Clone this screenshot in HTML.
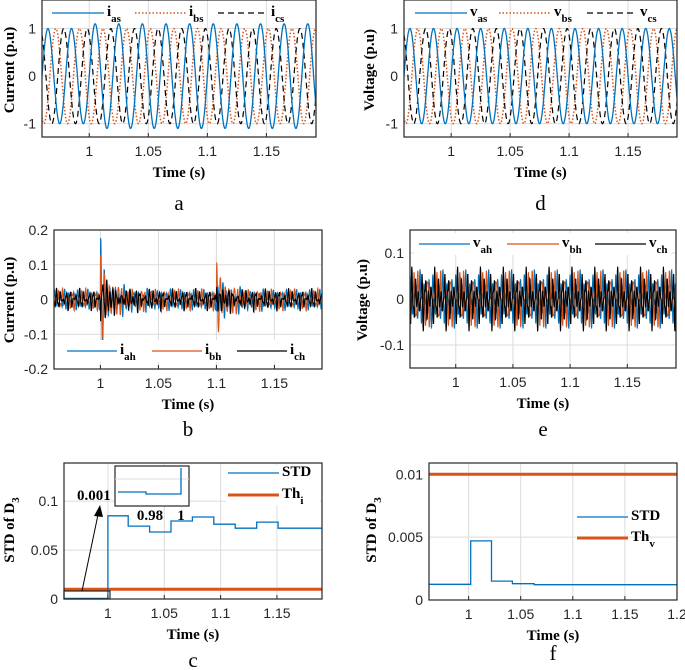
<!DOCTYPE html>
<html><head><meta charset="utf-8"><style>
body{margin:0;background:#fff}
svg{display:block}
.tk{font-family:"Liberation Sans",sans-serif;font-size:14px;fill:#262626}
.tt{font-family:"Liberation Serif",serif;font-weight:bold;font-size:15px;fill:#000}
.pl{font-family:"Liberation Serif",serif;font-size:21px;fill:#000}
.lg{font-family:"Liberation Serif",serif;font-weight:bold;font-size:15px;fill:#000}
</style></head><body>
<svg id="fig" width="685" height="670" viewBox="0 0 685 670" xmlns="http://www.w3.org/2000/svg"></svg>
<script>
// ---- data ----
const freqHz = 50;
const phaseShiftDeg = [0, -120, 120];
const currAmpBefore = [1, 1, 1];
const currAmpAfter = [1.1, 1, 1];
const voltAmp = [1, 1, 1];
const faultTime = 1.0;
const harmOrders = [5, 7, 11, 13];
const iahHarm = [0.014, 0.010, 0.006, 0.005];
const ibhHarm = [0.013, 0.011, 0.007, 0.004];
const ichHarm = [0.012, 0.012, 0.005, 0.006];
const vahHarm = [0.030, 0.022, 0.012, 0.006];
const vbhHarm = [0.028, 0.024, 0.010, 0.008];
const vchHarm = [0.020, 0.030, 0.015, 0.010];
const spikeTimes = [1.0, 1.1];
const iahSpike = [0.14, -0.09];
const ibhSpike = [0.12, 0.10];
const ichSpike = [-0.08, 0.04];
const stdIBreaks = [0.96, 1.0, 1.018, 1.037, 1.056, 1.075, 1.094, 1.113, 1.132, 1.151, 1.19];
const stdIValues = [0.0006, 0.085, 0.0745, 0.0685, 0.0797, 0.0838, 0.0765, 0.0724, 0.0786, 0.0724];
const thI = 0.01;
const stdVBreaks = [0.96, 1.002, 1.022, 1.042, 1.063, 1.2];
const stdVValues = [0.00125, 0.0047, 0.0015, 0.0013, 0.00122];
const thV = 0.01;
const timeTicks = [1, 1.05, 1.1, 1.15];
const timeTickLabels = ["1", "1.05", "1.1", "1.15"];
const timeTicksF = [1, 1.05, 1.1, 1.15, 1.2];
const timeTickLabelsF = ["1", "1.05", "1.1", "1.15", "1.2"];

const NS = "http://www.w3.org/2000/svg";
const fig = document.getElementById('fig');
function mk(tag, attrs, parent) {
  const e = document.createElementNS(NS, tag);
  for (const k in attrs) e.setAttribute(k, attrs[k]);
  (parent || fig).appendChild(e);
  return e;
}
const BLUE = "#0072BD", ORANGE = "#D95319";

function panel(o) {
  const g = mk('g', {});
  
  
  const sx = t => o.x0 + (t - o.t0) / (o.t1 - o.t0) * (o.x1 - o.x0);
  const sy = v => o.y1 - (v - o.v0) / (o.v1 - o.v0) * (o.y1 - o.y0);
  const cp = mk('clipPath', {id: 'c' + o.name}, g);
  mk('rect', {x: o.x0, y: o.y0, width: o.x1 - o.x0, height: o.y1 - o.y0}, cp);
  o.xt.forEach(t => { const l = mk('line', {x1: sx(t), x2: sx(t), y1: o.y0, y2: o.y1, stroke: '#dcdcdc', 'stroke-width': 1}, g);   });
  o.yt.forEach(v => { const l = mk('line', {x1: o.x0, x2: o.x1, y1: sy(v), y2: sy(v), stroke: '#dcdcdc', 'stroke-width': 1}, g);   });
  const pg = mk('g', {'clip-path': 'url(#c' + o.name + ')'}, g);
  o.draw(pg, sx, sy);
  const fr = mk('rect', {x: o.x0, y: o.y0, width: o.x1 - o.x0, height: o.y1 - o.y0, fill: 'none', stroke: '#262626', 'stroke-width': 1.2}, g);
   
  o.xt.forEach((t, i) => {
    mk('line', {x1: sx(t), x2: sx(t), y1: o.y1, y2: o.y1 - 4, stroke: '#262626'}, g);
    const tx = mk('text', {x: sx(t), y: o.y1 + 19, 'text-anchor': 'middle', class: 'tk'}, g);
    tx.textContent = o.xl[i];
     
  });
  o.yt.forEach((v, i) => {
    const tx = mk('text', {x: o.x0 - 6, y: sy(v) + 5, 'text-anchor': 'end', class: 'tk'}, g);
    tx.textContent = o.yl[i];
     
  });
  const xtit = mk('text', {x: (o.x0 + o.x1) / 2, y: o.y1 + 40, 'text-anchor': 'middle', class: 'tt'}, g);
  xtit.textContent = 'Time (s)';
   
  const yt = mk('text', {x: 0, y: 0, 'text-anchor': 'middle', class: 'tt', transform: `translate(${o.ytx},${o.yty}) rotate(-90)`}, g);
  if (o.ysub) { yt.innerHTML = o.ytitle + '<tspan font-size="11" dy="5">' + o.ysub + '</tspan>'; } else yt.textContent = o.ytitle;
   
  const pl = mk('text', {x: (o.x0 + o.x1) / 2 + (o.lx || 0), y: o.ly, 'text-anchor': 'middle', class: 'pl'}, g);
  pl.textContent = o.letter;
   
  if (o.legend) o.legend(g, sx, sy);
  return g;
}
function poly(g, pts, stroke, w, dash, name) {
  const p = mk('polyline', {points: pts.map(p => p[0].toFixed(1) + ',' + p[1].toFixed(1)).join(' '), fill: 'none', stroke: stroke, 'stroke-width': w}, g);
  if (dash) p.setAttribute('stroke-dasharray', dash);
   
  return p;
}
function legEntry(g, x1, x2, y, color, w, dash, main, sub, name) {
  const l = mk('line', {x1: x1, x2: x2, y1: y, y2: y, stroke: color, 'stroke-width': w}, g);
  if (dash) l.setAttribute('stroke-dasharray', dash);
   
  const t = mk('text', {x: x2 + 3, y: y + 3, class: 'lg'}, g);
  t.innerHTML = main + (sub ? '<tspan font-size="11" dy="6">' + sub + '</tspan>' : '');
   
}
const DT = 0.0002;
function sine(t0, t1, k, ampB, ampA) {
  const out = [];
  for (let t = t0; t <= t1 + 1e-9; t += DT) {
    const a = t < faultTime ? ampB[k] : ampA[k];
    out.push([t, a * Math.sin(2 * Math.PI * freqHz * t + phaseShiftDeg[k] * Math.PI / 180)]);
  }
  return out;
}
function harm(t0, t1, amps, ph, spikes) {
  const out = [];
  for (let t = t0; t <= t1 + 1e-9; t += DT) {
    let v = 0;
    harmOrders.forEach((h, i) => { v += amps[i] * Math.sin(2 * Math.PI * freqHz * h * t + ph * (i + 1)); });
    if (spikes) spikeTimes.forEach((ts, i) => {
      const d = t - ts;
      if (d >= 0) v += spikes[i] * Math.exp(-d / 0.003) * Math.cos(2 * Math.PI * 280 * d) + 0.4 * Math.abs(spikes[i]) * Math.exp(-d / 0.02) * Math.sin(2 * Math.PI * 400 * d);
    });
    out.push([t, v]);
  }
  return out;
}
const map = (arr, sx, sy) => arr.map(p => [sx(p[0]), sy(p[1])]);
function steps(br, vals) { const o = []; vals.forEach((v, i) => { o.push([br[i], v]); o.push([br[i + 1], v]); }); return o; }

panel({name: 'panel-a', x0: 42, x1: 316, y0: 0, y1: 137, t0: 0.96, t1: 1.192, v0: -1.28, v1: 1.6,
  xt: timeTicks, xl: timeTickLabels, yt: [-1, 0, 1], yl: ['-1', '0', '1'], ytitle: 'Current (p.u)', ytx: 14, yty: 70, letter: 'a', ly: 210,
  draw: (g, sx, sy) => {
    poly(g, map(sine(0.96, 1.192, 1, currAmpBefore, currAmpAfter), sx, sy), ORANGE, 1.5, '1.5 2', 'i-bs-line');
    poly(g, map(sine(0.96, 1.192, 2, currAmpBefore, currAmpAfter), sx, sy), '#000', 1.2, '6 4', 'i-cs-line');
    poly(g, map(sine(0.96, 1.192, 0, currAmpBefore, currAmpAfter), sx, sy), BLUE, 1.3, null, 'i-as-line');
  },
  legend: g => { legEntry(g, 52, 104, 13, BLUE, 1.3, null, 'i', 'as', 'legend-i-as'); legEntry(g, 135, 186, 13, ORANGE, 1.5, '1.5 2', 'i', 'bs', 'legend-i-bs'); legEntry(g, 218, 268, 13, '#000', 1.2, '6 4', 'i', 'cs', 'legend-i-cs'); }
});
panel({name: 'panel-d', x0: 404, x1: 677, y0: 0, y1: 137, t0: 0.96, t1: 1.1915, v0: -1.28, v1: 1.6,
  xt: timeTicks, xl: timeTickLabels, yt: [-1, 0, 1], yl: ['-1', '0', '1'], ytitle: 'Voltage (p.u)', ytx: 374, yty: 70, letter: 'd', ly: 210,
  draw: (g, sx, sy) => {
    poly(g, map(sine(0.96, 1.192, 1, voltAmp, voltAmp), sx, sy), ORANGE, 1.5, '1.5 2', 'v-bs-line');
    poly(g, map(sine(0.96, 1.192, 2, voltAmp, voltAmp), sx, sy), '#000', 1.2, '6 4', 'v-cs-line');
    poly(g, map(sine(0.96, 1.192, 0, voltAmp, voltAmp), sx, sy), BLUE, 1.3, null, 'v-as-line');
  },
  legend: g => { legEntry(g, 415, 467, 13, BLUE, 1.3, null, 'v', 'as', 'legend-v-as'); legEntry(g, 499, 551, 13, ORANGE, 1.5, '1.5 2', 'v', 'bs', 'legend-v-bs'); legEntry(g, 587, 637, 13, '#000', 1.2, '6 4', 'v', 'cs', 'legend-v-cs'); }
});
panel({name: 'panel-b', x0: 54, x1: 322, y0: 230, y1: 369, t0: 0.96, t1: 1.191, v0: -0.2, v1: 0.2,
  xt: timeTicks, xl: timeTickLabels, yt: [-0.2, -0.1, 0, 0.1, 0.2], yl: ['-0.2', '-0.1', '0', '0.1', '0.2'], ytitle: 'Current (p.u)', ytx: 14, yty: 300, letter: 'b', ly: 436,
  draw: (g, sx, sy) => {
    poly(g, map(harm(0.96, 1.191, iahHarm, 0.3, iahSpike), sx, sy), BLUE, 1.1, null, 'i-ah-line');
    poly(g, map(harm(0.96, 1.191, ibhHarm, 2.4, ibhSpike), sx, sy), ORANGE, 1.1, null, 'i-bh-line');
    poly(g, map(harm(0.96, 1.191, ichHarm, 4.5, ichSpike), sx, sy), '#000', 1.1, null, 'i-ch-line');
  },
  legend: g => { mk('rect', {x: 60, y: 340, width: 255, height: 22, fill: '#fff'}, g); legEntry(g, 67, 117, 351, BLUE, 1.3, null, 'i', 'ah', 'legend-i-ah'); legEntry(g, 152, 202, 351, ORANGE, 1.3, null, 'i', 'bh', 'legend-i-bh'); legEntry(g, 237, 287, 351, '#000', 1.3, null, 'i', 'ch', 'legend-i-ch'); }
});
panel({name: 'panel-e', x0: 410, x1: 676, y0: 230, y1: 368, t0: 0.96, t1: 1.1926, v0: -0.15, v1: 0.15,
  xt: timeTicks, xl: timeTickLabels, yt: [-0.1, 0, 0.1], yl: ['-0.1', '0', '0.1'], ytitle: 'Voltage (p.u)', ytx: 367, yty: 300, letter: 'e', ly: 436,
  draw: (g, sx, sy) => {
    poly(g, map(harm(0.96, 1.193, vahHarm, 0.7, null), sx, sy), BLUE, 1.1, null, 'v-ah-line');
    poly(g, map(harm(0.96, 1.193, vbhHarm, 2.9, null), sx, sy), ORANGE, 1.1, null, 'v-bh-line');
    poly(g, map(harm(0.96, 1.193, vchHarm, 5.1, null), sx, sy), '#000', 1.1, null, 'v-ch-line');
  },
  legend: g => { mk('rect', {x: 414, y: 233, width: 258, height: 22, fill: '#fff'}, g); legEntry(g, 419, 470, 244, BLUE, 1.3, null, 'v', 'ah', 'legend-v-ah'); legEntry(g, 507, 559, 244, ORANGE, 1.3, null, 'v', 'bh', 'legend-v-bh'); legEntry(g, 595, 646, 244, '#000', 1.3, null, 'v', 'ch', 'legend-v-ch'); }
});
panel({name: 'panel-c', x0: 64, x1: 322, y0: 463, y1: 599, t0: 0.961, t1: 1.19, v0: 0, v1: 0.139,
  xt: timeTicks, xl: timeTickLabels, yt: [0, 0.05, 0.1], yl: ['0', '0.05', '0.1'], ytitle: 'STD of D', ysub: '3', ytx: 14, yty: 530, letter: 'c', ly: 667,
  draw: (g, sx, sy) => {
    const th = mk('line', {x1: sx(0.96), x2: sx(1.19), y1: sy(thI), y2: sy(thI), stroke: ORANGE, 'stroke-width': 3}, g);
     
    poly(g, map(steps(stdIBreaks, stdIValues), sx, sy), BLUE, 1.3, null, 'std-i-line');
  },
  legend: (g, sx, sy) => {
    const zr = mk('rect', {x: 64, y: 591, width: 46, height: 8, fill: 'none', stroke: '#262626', 'stroke-width': 1.2}, g);
     
    mk('line', {x1: 82, y1: 591, x2: 99, y2: 510, stroke: '#000', 'stroke-width': 1}, g);
    mk('polygon', {points: '100,505 94,516 103,517', fill: '#000'}, g);
    const ins = mk('g', {}, g);  
    mk('rect', {x: 115, y: 466, width: 74, height: 40, fill: '#fff', stroke: '#262626', 'stroke-width': 1.2}, ins);
    mk('line', {x1: 115, x2: 189, y1: 479, y2: 479, stroke: '#dcdcdc'}, ins);
    poly(ins, [[118, 492], [146, 492], [146, 494], [181, 494], [181, 468]], BLUE, 1.3, null, 'inset-std-line');
    const a = mk('text', {x: 77, y: 500, class: 'lg', 'font-size': '14'}, g); a.textContent = '0.001';
     
    const b = mk('text', {x: 150, y: 520, class: 'lg', 'text-anchor': 'middle', 'font-size': '14'}, g); b.textContent = '0.98';
     
    const c = mk('text', {x: 181, y: 520, class: 'lg', 'text-anchor': 'middle', 'font-size': '14'}, g); c.textContent = '1';
     
    mk('rect', {x: 226, y: 465, width: 94, height: 40, fill: '#fff'}, g);
    legEntry(g, 228, 279, 473, BLUE, 1.3, null, 'STD', '', 'legend-std');
    legEntry(g, 228, 279, 495, ORANGE, 3, null, 'Th', 'i', 'legend-th-i');
  }
});
panel({name: 'panel-f', x0: 429, x1: 677, y0: 463, y1: 600, t0: 0.962, t1: 1.2, v0: 0, v1: 0.0109,
  xt: timeTicksF, xl: timeTickLabelsF, yt: [0, 0.005, 0.01], yl: ['0', '0.005', '0.01'], ytitle: 'STD of D', ysub: '3', ytx: 376, yty: 530, letter: 'f', ly: 660,
  draw: (g, sx, sy) => {
    const th = mk('line', {x1: sx(0.96), x2: sx(1.2), y1: sy(thV), y2: sy(thV), stroke: ORANGE, 'stroke-width': 3}, g);
     
    poly(g, map(steps(stdVBreaks, stdVValues), sx, sy), BLUE, 1.3, null, 'std-v-line');
  },
  legend: g => {
    legEntry(g, 577, 628, 517, BLUE, 1.3, null, 'STD', '', 'legend-std');
    legEntry(g, 577, 628, 538, ORANGE, 3, null, 'Th', 'v', 'legend-th-v');
  }
});
</script>
</body></html>
